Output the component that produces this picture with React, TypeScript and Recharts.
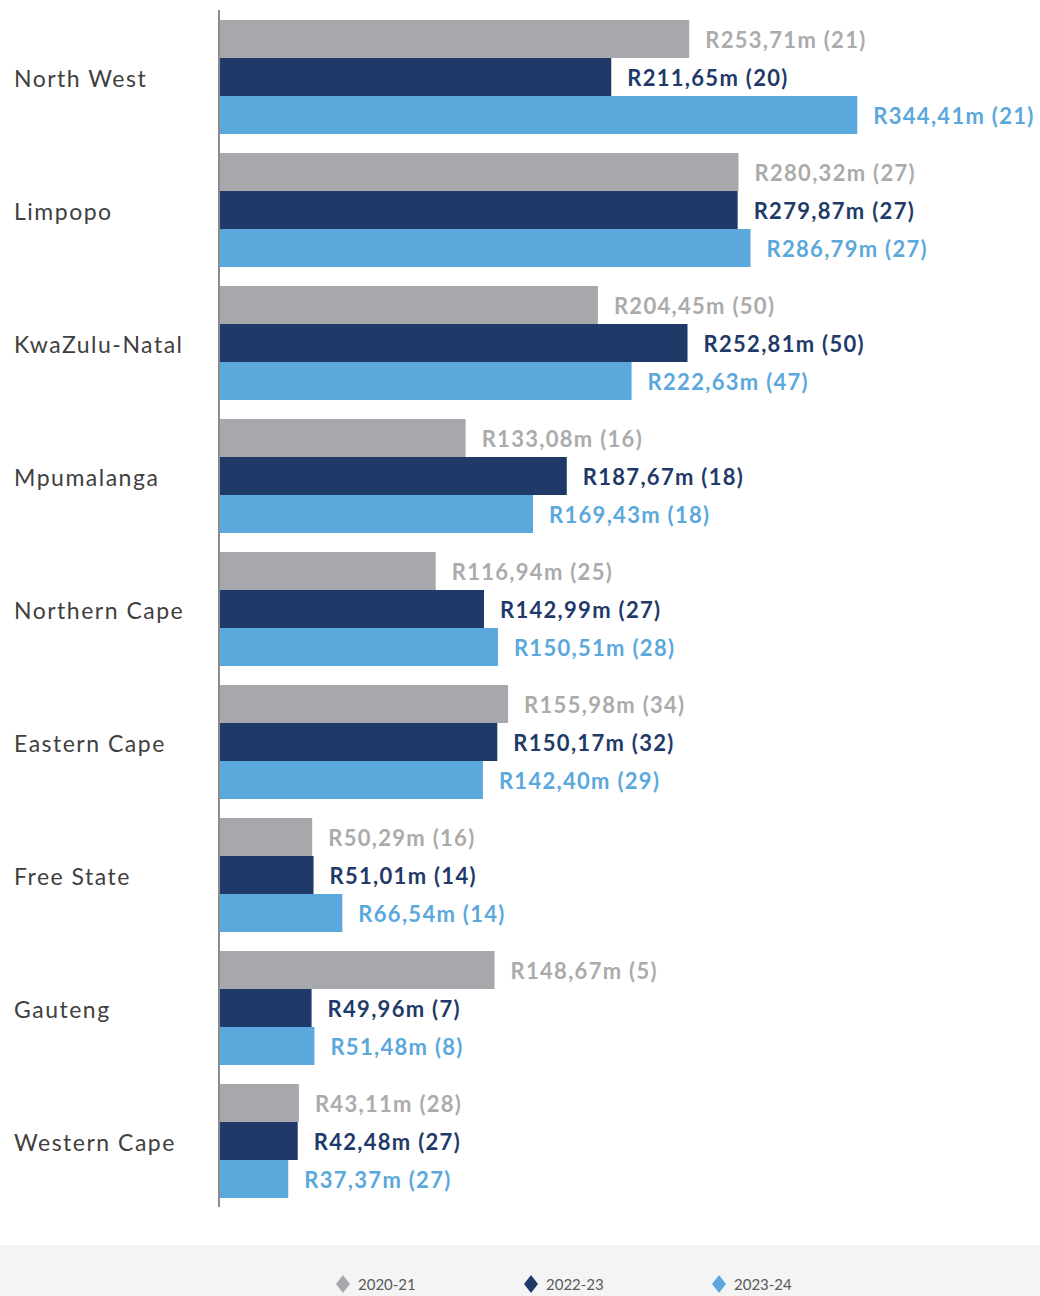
import { BarChart, Bar, XAxis, YAxis, LabelList } from 'recharts';

const provinces = [
  'North West',
  'Limpopo',
  'KwaZulu-Natal',
  'Mpumalanga',
  'Northern Cape',
  'Eastern Cape',
  'Free State',
  'Gauteng',
  'Western Cape',
];

const value2021 = [253.71, 280.32, 204.45, 133.08, 116.94, 155.98, 50.29, 148.67, 43.11];
const count2021 = [21, 27, 50, 16, 25, 34, 16, 5, 28];
const value2223 = [211.65, 279.87, 252.81, 187.67, 142.99, 150.17, 51.01, 49.96, 42.48];
const count2223 = [20, 27, 50, 18, 27, 32, 14, 7, 27];
const value2324 = [344.41, 286.79, 222.63, 169.43, 150.51, 142.4, 66.54, 51.48, 37.37];
const count2324 = [21, 27, 47, 18, 28, 29, 14, 8, 27];

const SERIES = [
  { key: 'y2021', count: 'c2021', name: '2020-21', color: '#a7a8ab', label: '#ababab' },
  { key: 'y2223', count: 'c2223', name: '2022-23', color: '#1f3a68', label: '#1f3a68' },
  { key: 'y2324', count: 'c2324', name: '2023-24', color: '#5ba8dc', label: '#5ba8dc' },
];

const data = provinces.map((p, i) => ({
  name: p,
  y2021: value2021[i],
  c2021: count2021[i],
  y2223: value2223[i],
  c2223: count2223[i],
  y2324: value2324[i],
  c2324: count2324[i],
}));

const FONT = "'Lato', 'Open Sans', sans-serif";

const fmt = (v: number) => 'R' + v.toFixed(2).replace('.', ',') + 'm';

const ProvinceTick = ({ y, payload }: { y?: number; payload?: { value: string } }) => (
  <text
    x={14}
    y={y}
    dy={10}
    textAnchor="start"
    fontSize={23}
    fill="#404040"
    fontFamily={FONT}
    letterSpacing={1.5}
  >
    {payload?.value}
  </text>
);

const makeLabel = (countKey: string, color: string) => (props: any) => {
  const { x, y, width, height, value, index } = props;
  const cnt = (data[index] as any)[countKey];
  return (
    <text
      x={x + width + 16}
      y={y + height / 2}
      dy={9}
      textAnchor="start"
      fontSize={22}
      fontWeight={700}
      fill={color}
      fontFamily={FONT}
      letterSpacing={1.3}
    >
      {`${fmt(value)} (${cnt})`}
    </text>
  );
};

export default function App() {
  return (
    <div style={{ width: 1040, height: 1296, overflow: 'hidden', background: '#fff' }}>
      <style>{'body{margin:0}'}</style>
      <BarChart
        width={1040}
        height={1245}
        data={data}
        layout="vertical"
        margin={{ top: 10, right: 0, bottom: 38, left: 0 }}
        barGap={0}
        barSize={38}
      >
        <XAxis type="number" domain={[0, 443]} hide />
        <YAxis
          type="category"
          dataKey="name"
          width={219}
          tick={<ProvinceTick />}
          tickLine={false}
          axisLine={{ stroke: '#8c8c8c', strokeWidth: 2 }}
        />
        {SERIES.map((s) => (
          <Bar key={s.key} dataKey={s.key} name={s.name} fill={s.color} isAnimationActive={false}>
            <LabelList dataKey={s.key} content={makeLabel(s.count, s.label)} />
          </Bar>
        ))}
      </BarChart>
      <div
        style={{
          height: 51,
          background: '#f4f4f4',
          position: 'relative',
          fontFamily: FONT,
          fontSize: 15,
          color: '#595959',
        }}
      >
        {SERIES.map((s, i) => (
          <div
            key={s.key}
            style={{
              position: 'absolute',
              left: 334 + i * 188,
              top: 29,
              display: 'flex',
              alignItems: 'center',
              gap: 6,
            }}
          >
            <svg width={18} height={20}>
              <polygon points="9,1 16,10 9,19 2,10" fill={s.color} />
            </svg>
            <span>{s.name}</span>
          </div>
        ))}
      </div>
    </div>
  );
}
